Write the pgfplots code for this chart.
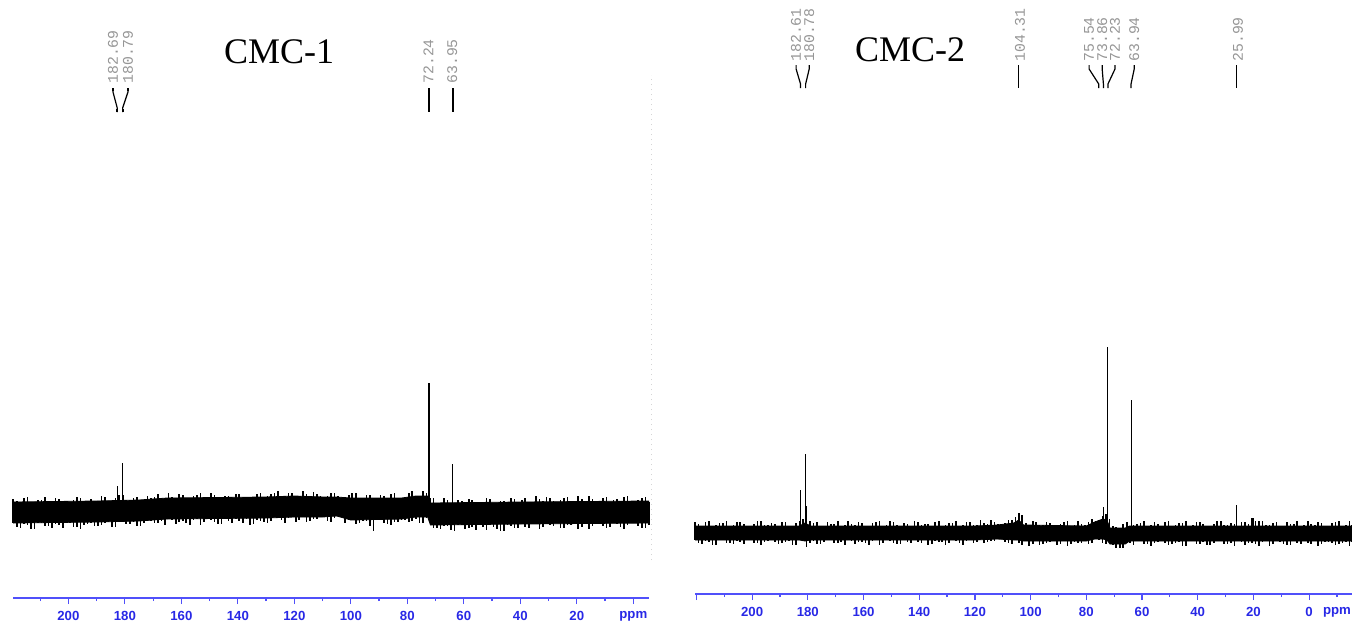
\documentclass[border=0pt]{standalone}
\usepackage{fontspec}
\setmainfont{Liberation Serif}
\setsansfont{Liberation Sans}
\setmonofont{Liberation Mono}
\usepackage{pgfplots}
\usepackage{pgfplotstable}
\pgfplotsset{compat=1.18}
\usepgfplotslibrary{fillbetween}

\definecolor{axisblue}{RGB}{80,80,250}
\definecolor{tickblue}{RGB}{40,40,230}
\definecolor{lblgray}{RGB}{150,150,150}

\newcommand{\tickfont}{\fontsize{6.6}{7}\selectfont\sffamily\bfseries}
\newcommand{\lblfont}{\fontsize{7.4}{8}\selectfont\ttfamily}
\newcommand{\plabel}[3]{\node[rotate=90, anchor=west, font=\lblfont, text=lblgray, inner sep=0pt] at (axis cs:#1,#2) {#3};}

% solid core of the noise band (x in ppm)
\pgfplotstableread{
x ct cb
219.6 121 100
190 122 101
175 123 102
165 125 104
130 126 105
120 127 106
110 126 106
105 126 107
100 125 103
82 125 104
77 127 106
72.8 127 106
71.8 120 98
40 121 99
-5.56 122 100
}\coreone

\pgfplotstableread{
x ct cb
220.5 97 83
183 97 83
181 100 82
179 97 83
120 97 83
112 98 84
106 100 83
104.3 103 83
102.5 98 82
80 97 82
77 101 84
74 104 84
72.6 103 83
71.5 95 79
66 95 79
64.5 97 82
-15.4 97 82
}\coretwo

% noise spikes of CMC-1: top / bottom reached at each x
\pgfplotstableread{
x t b
219.5 122 103
217 118 98
214.5 124 101
212 119 97
209.5 121 103
207 118 100
204.5 123 102
202 120 98
199.5 118 103
197 124 99
194.5 119 101
192 122 103
189.5 120 100
187 124 103
184.5 120 99
182 126 105
179.5 121 102
177 123 104
174.5 120 100
172 125 105
169.5 124 103
167 122 105
164.5 128 107
162 123 102
159.5 126 105
157 122 101
154.5 126 107
152 122 104
149.5 128 106
147 123 102
144.5 125 107
142 122 103
139.5 127 105
137 124 107
134.5 122 102
132 128 105
129.5 125 103
127 128 109
124.5 124 106
122 128 108
119.5 124 104
117 130 109
114.5 125 105
112 127 107
109.5 123 109
107 128 104
104.5 125 112
102 123 103
99.5 128 106
97 123 103
94.5 126 105
92 122 95
89.5 126 106
87 122 102
84.5 128 104
82 123 106
79.5 128 104
77 125 107
74.5 130 103
72 123 104
69.5 117 98
67 123 100
64.5 118 96
62 121 101
59.5 117 97
57 121 99
54.5 117 101
52 123 96
49.5 118 99
47 120 95
44.5 117 101
42 122 98
39.5 121 102
37 119 98
34.5 125 103
32 120 99
29.5 123 101
27 119 103
24.5 123 98
22 119 101
19.5 125 97
17 120 103
14.5 122 100
12 119 102
9.5 124 98
7 121 103
4.5 119 99
2 125 101
-0.5 120 103
-3 123 98
-5.5 119 101
218.25 120 99
215.75 123 102
213.25 118 97
210.75 121 103
208.25 124 100
205.75 119 98
203.25 122 101
200.75 118 103
198.25 121 99
195.75 123 97
193.25 119 102
190.75 120 100
188.25 125 101
185.75 120 104
183.25 123 99
180.75 126 105
178.25 121 102
175.75 124 100
173.25 120 103
170.75 123 105
168.25 127 103
165.75 123 101
163.25 124 106
160.75 127 104
158.25 122 103
155.75 125 106
153.25 128 101
150.75 123 107
148.25 126 104
145.75 122 102
143.25 125 105
140.75 127 107
138.25 123 103
135.75 124 101
133.25 127 106
130.75 122 104
128.25 127 105
125.75 130 108
123.25 125 103
120.75 128 109
118.25 124 106
115.75 127 104
113.25 129 107
110.75 125 109
108.25 125 105
105.75 128 108
103.25 123 110
100.75 126 106
98.25 128 102
95.75 123 105
93.25 126 100
90.75 122 106
88.25 125 103
85.75 127 101
83.25 123 104
80.75 124 106
78.25 130 105
75.75 125 103
73.25 128 108
70.75 123 98
68.25 118 97
65.75 121 100
63.25 117 95
60.75 120 101
58.25 122 98
55.75 118 96
53.25 119 99
50.75 122 101
48.25 117 97
45.75 120 95
43.25 123 100
40.75 118 98
38.25 123 99
35.75 119 102
33.25 122 97
30.75 124 103
28.25 120 100
25.75 121 98
23.25 124 101
20.75 119 103
18.25 122 99
15.75 125 97
13.25 120 102
10.75 123 100
8.25 119 99
5.75 122 102
3.25 124 97
0.75 120 103
-1.75 121 100
-4.25 124 98
}\cmcone

% noise spikes of CMC-2
\pgfplotstableread{
x t b
220.5 99 85
218 95 81
215.5 100 83
213 96 80
210.5 98 85
208 95 82
205.5 99 84
203 97 81
200.5 95 85
198 100 82
195.5 96 83
193 98 85
190.5 95 81
188 99 83
185.5 95 80
183 100 85
180.5 104 78
178 98 84
175.5 95 81
173 99 85
170.5 97 82
168 95 83
165.5 100 85
163 96 81
160.5 98 83
158 95 80
155.5 99 85
153 95 82
150.5 100 84
148 96 81
145.5 98 85
143 95 82
140.5 99 83
138 97 85
135.5 95 81
133 100 83
130.5 96 80
128 98 85
125.5 95 82
123 99 84
120.5 96 82
118 101 86
115.5 97 83
113 99 84
110.5 96 86
108 101 82
105.5 104 85
103 106 80
100.5 95 79
98 99 84
95.5 96 81
93 98 83
90.5 95 80
88 99 84
85.5 95 81
83 100 82
80.5 96 84
78 102 82
75.5 101 85
73 107 81
70.5 95 80
68 93 77
65.5 99 82
63 96 80
60.5 98 84
58 95 81
55.5 99 82
53 95 84
50.5 100 80
48 96 82
45.5 98 79
43 95 84
40.5 99 81
38 97 83
35.5 95 80
33 100 84
30.5 96 81
28 98 82
25.5 95 84
23 99 80
20.5 103 82
18 100 79
15.5 96 84
13 98 81
10.5 95 83
8 99 80
5.5 97 84
3 95 81
0.5 100 82
-2 96 84
-4.5 98 81
-7 95 83
-9.5 99 80
-12 95 82
-14.5 100 79
-15.2 96 83
219.25 97 82
216.75 99 84
214.25 95 80
211.75 98 85
209.25 100 82
206.75 96 81
204.25 99 83
201.75 95 85
199.25 97 82
196.75 100 80
194.25 96 84
191.75 97 83
189.25 99 82
186.75 95 84
184.25 98 80
181.75 102 85
179.25 100 82
176.75 99 81
174.25 95 83
171.75 97 85
169.25 100 82
166.75 96 80
164.25 97 84
161.75 99 83
159.25 95 82
156.75 98 84
154.25 100 80
151.75 96 85
149.25 99 82
146.75 95 81
144.25 97 83
141.75 100 85
139.25 96 82
136.75 97 80
134.25 99 84
131.75 95 83
129.25 98 82
126.75 100 84
124.25 96 80
121.75 99 85
119.25 96 83
116.75 98 82
114.25 101 84
111.75 97 86
109.25 98 83
106.75 101 81
104.25 108 82
101.75 98 84
99.25 100 81
96.75 96 80
94.25 99 82
91.75 95 84
89.25 97 81
86.75 100 79
84.25 96 83
81.75 97 82
79.25 99 81
76.75 100 86
74.25 105 82
71.75 102 82
69.25 94 77
66.75 97 77
64.25 95 82
61.75 97 84
59.25 100 81
56.75 96 79
54.25 97 83
51.75 99 82
49.25 95 81
46.75 98 83
44.25 100 79
41.75 96 84
39.25 99 81
36.75 95 80
34.25 97 82
31.75 100 84
29.25 96 81
26.75 97 79
24.25 99 83
21.75 97 82
19.25 100 81
16.75 100 83
14.25 96 79
11.75 99 84
9.25 95 81
6.75 97 80
4.25 100 82
1.75 96 84
-0.75 97 81
-3.25 99 79
-5.75 95 83
-8.25 98 82
-10.75 100 81
-13.25 96 83
}\cmctwo

\pgfplotsset{
  nmr/.style={
    scale only axis, anchor=south west, x dir=reverse,
    axis x line*=bottom, axis y line=none,
    x axis line style={draw=axisblue, line width=0.8pt, -},
    tick align=outside, major tick length=3pt, minor tick length=1.6pt,
    tick style={axisblue, line width=0.6pt},
    xticklabel style={font=\tickfont, text=tickblue},
    clip=false,
  },
  core/.style={black, line width=0.4pt, mark=none},
  spikes/.style={draw=none, mark=none,
    error bars/.cd, y dir=both, y explicit, error mark=none,
    error bar style={black, line width=0.8pt}},
  pk/.style={black, line width=0.5pt, mark=none},
  conn/.style={black, line width=0.6pt, mark=none},
}

\begin{document}
\begin{tikzpicture}

% ---------------- CMC-1 ----------------
\begin{axis}[nmr,
  at={(6.5pt,12.5pt)}, width=318pt, height=299pt,
  xmin=-5.56, xmax=219.6, ymin=25, ymax=623,
  xtick={0,20,...,200},
  xticklabels={ppm,20,40,60,80,100,120,140,160,180,200},
  minor xtick={10,30,...,210},
]
\addplot[core, name path=at] table[x=x, y=ct] {\coreone};
\addplot[core, name path=ab] table[x=x, y=cb] {\coreone};
\addplot[black] fill between[of=at and ab];
\addplot[spikes] table[x=x, y expr=0.5*(\thisrow{t}+\thisrow{b}),
  y error expr=0.5*(\thisrow{t}-\thisrow{b})+2.5] {\cmcone};

\addplot[pk] coordinates {(182.69,120) (182.69,137)};
\addplot[pk] coordinates {(180.79,120) (180.79,160)};
\addplot[pk, line width=1pt] coordinates {(72.24,122) (72.24,240)};
\addplot[pk] coordinates {(63.95,118) (63.95,159)};

\addplot[conn] coordinates {(184.2,535) (184.2,531) (182.69,515) (182.69,511)};
\addplot[conn] coordinates {(178.9,535) (178.9,531) (180.79,515) (180.79,511)};
\addplot[conn, line width=1pt] coordinates {(184.2,535) (184.2,532)};
\addplot[conn, line width=1pt] coordinates {(178.9,535) (178.9,532)};
\addplot[conn, line width=1pt] coordinates {(182.69,514) (182.69,511)};
\addplot[conn, line width=1pt] coordinates {(180.79,514) (180.79,511)};
\addplot[conn, line width=0.9pt] coordinates {(72.24,535) (72.24,511)};
\addplot[conn, line width=0.9pt] coordinates {(63.95,535) (63.95,511)};

\plabel{184.2}{539}{182.69}
\plabel{178.9}{539}{180.79}
\plabel{72.5}{539}{72.24}
\plabel{64.1}{539}{63.95}

\node[font=\fontsize{18}{20}\selectfont] at (axis cs:125.4,571) {CMC-1};
\end{axis}

% ---------------- CMC-2 ----------------
\begin{axis}[nmr,
  at={(347.5pt,14.5pt)}, width=328.5pt, height=297pt,
  xmin=-15.4, xmax=220.5, ymin=29, ymax=623,
  xtick={0,20,...,220},
  xticklabels={0,20,40,60,80,100,120,140,160,180,200,{}},
  minor xtick={-10,10,...,210},
]
\addplot[core, name path=bt] table[x=x, y=ct] {\coretwo};
\addplot[core, name path=bb] table[x=x, y=cb] {\coretwo};
\addplot[black] fill between[of=bt and bb];
\addplot[spikes] table[x=x, y expr=0.5*(\thisrow{t}+\thisrow{b}),
  y error expr=0.5*(\thisrow{t}-\thisrow{b})+2] {\cmctwo};

\addplot[pk] coordinates {(182.61,96) (182.61,133)};
\addplot[pk] coordinates {(180.78,96) (180.78,169)};
\addplot[pk] coordinates {(180.3,96) (180.3,117)};
\addplot[pk, line width=0.8pt] coordinates {(104.31,96) (104.31,110)};
\addplot[pk] coordinates {(74.0,98) (74.0,116)};
\addplot[pk] coordinates {(72.23,96) (72.23,276)};
\addplot[pk] coordinates {(63.94,96) (63.94,223)};
\addplot[pk] coordinates {(25.99,96) (25.99,118)};
\addplot[pk] coordinates {(20.1,96) (20.1,105)};

\addplot[conn] coordinates {(184.2,558) (184.2,554) (182.61,539) (182.61,535)};
\addplot[conn] coordinates {(179.5,558) (179.5,554) (180.78,539) (180.78,535)};
\addplot[conn] coordinates {(104.31,558) (104.31,535)};
\addplot[conn] coordinates {(79.0,558) (79.0,554) (75.54,539) (75.54,535)};
\addplot[conn] coordinates {(74.3,558) (74.3,554) (73.86,539) (73.86,535)};
\addplot[conn] coordinates {(69.7,558) (69.7,554) (72.23,539) (72.23,535)};
\addplot[conn] coordinates {(62.8,558) (62.8,554) (63.94,539) (63.94,535)};
\addplot[conn] coordinates {(25.99,558) (25.99,535)};

\plabel{184.2}{561}{182.61}
\plabel{179.5}{561}{180.78}
\plabel{103.8}{561}{104.31}
\plabel{79.0}{561}{75.54}
\plabel{74.3}{561}{73.86}
\plabel{69.7}{561}{72.23}
\plabel{62.8}{561}{63.94}
\plabel{25.5}{561}{25.99}

\node[font=\fontsize{18}{20}\selectfont] at (axis cs:143.3,573) {CMC-2};
\node[font=\tickfont, text=tickblue, anchor=north] at (axis cs:-10,29) [yshift=-3pt] {ppm};
\end{axis}

\draw[lblgray!40, dotted, line width=0.5pt] (325.5pt,31.5pt) -- (325.5pt,274pt);
\pgfresetboundingbox
\useasboundingbox (0,0) rectangle (676pt,311.5pt);
\end{tikzpicture}
\end{document}
